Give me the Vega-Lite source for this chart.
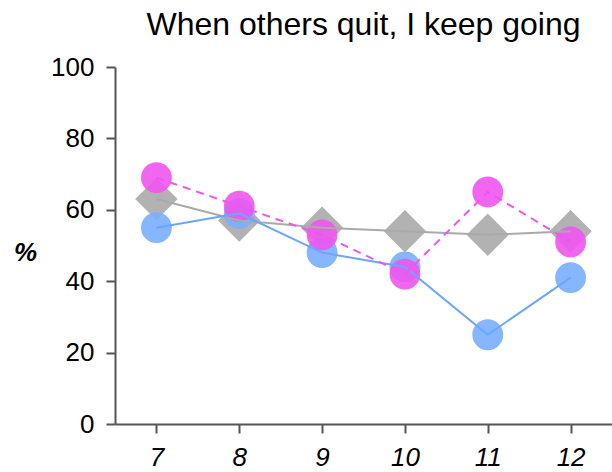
{
  "$schema": "https://vega.github.io/schema/vega-lite/v6.json",
  "width": 497,
  "height": 357,
  "autosize": "none",
  "padding": {"left": 115, "top": 67, "right": 0, "bottom": 48},
  "background": "white",
  "title": {
    "text": "When others quit, I keep going",
    "font": "Liberation Sans",
    "fontSize": 32,
    "fontWeight": "normal",
    "color": "#000000",
    "anchor": "middle",
    "offset": 12
  },
  "data": {
    "values": [
      {"grade": 7, "group": "Overall", "pct": 63},
      {"grade": 8, "group": "Overall", "pct": 57},
      {"grade": 9, "group": "Overall", "pct": 55},
      {"grade": 10, "group": "Overall", "pct": 54},
      {"grade": 11, "group": "Overall", "pct": 53},
      {"grade": 12, "group": "Overall", "pct": 54},
      {"grade": 7, "group": "Group A", "pct": 55},
      {"grade": 8, "group": "Group A", "pct": 59},
      {"grade": 9, "group": "Group A", "pct": 48},
      {"grade": 10, "group": "Group A", "pct": 44},
      {"grade": 11, "group": "Group A", "pct": 25},
      {"grade": 12, "group": "Group A", "pct": 41},
      {"grade": 7, "group": "Group B", "pct": 69},
      {"grade": 8, "group": "Group B", "pct": 61},
      {"grade": 9, "group": "Group B", "pct": 53},
      {"grade": 10, "group": "Group B", "pct": 42},
      {"grade": 11, "group": "Group B", "pct": 65},
      {"grade": 12, "group": "Group B", "pct": 51}
    ]
  },
  "encoding": {
    "x": {
      "field": "grade",
      "type": "quantitative",
      "scale": {"domain": [6.5, 12.5], "nice": false, "zero": false},
      "axis": {
        "title": null,
        "values": [7, 8, 9, 10, 11, 12],
        "format": "d",
        "grid": false,
        "domainColor": "#555555",
        "domainWidth": 2,
        "tickColor": "#555555",
        "tickWidth": 2,
        "tickSize": 9,
        "labelFont": "Liberation Sans",
        "labelFontSize": 26,
        "labelFontStyle": "italic",
        "labelColor": "#000000",
        "labelPadding": 11
      }
    },
    "y": {
      "field": "pct",
      "type": "quantitative",
      "scale": {"domain": [0, 100], "nice": false},
      "axis": {
        "title": "%",
        "values": [0, 20, 40, 60, 80, 100],
        "grid": false,
        "domainColor": "#555555",
        "domainWidth": 2,
        "tickColor": "#555555",
        "tickWidth": 2,
        "tickSize": 9,
        "labelFont": "Liberation Sans",
        "labelFontSize": 26,
        "labelColor": "#000000",
        "labelPadding": 12,
        "titleFont": "Liberation Sans",
        "titleFontSize": 26,
        "titleFontStyle": "italic",
        "titleFontWeight": "bold",
        "titleColor": "#000000",
        "titleAngle": 0,
        "titleAlign": "center",
        "titleBaseline": "middle",
        "titleX": -90,
        "titleY": 185
      }
    }
  },
  "layer": [
    {
      "transform": [{"filter": "datum.group === 'Overall'"}],
      "mark": {"type": "point", "shape": "diamond", "filled": true, "size": 1800, "color": "#aaaaaa", "opacity": 0.9, "strokeWidth": 0}
    },
    {
      "transform": [{"filter": "datum.group === 'Group A'"}],
      "mark": {"type": "point", "shape": "circle", "filled": true, "size": 950, "color": "#78aeff", "opacity": 0.9, "strokeWidth": 0}
    },
    {
      "transform": [{"filter": "datum.group === 'Group B'"}],
      "mark": {"type": "point", "shape": "circle", "filled": true, "size": 950, "color": "#ee55ee", "opacity": 0.9, "strokeWidth": 0}
    },
    {
      "transform": [{"filter": "datum.group === 'Overall'"}],
      "mark": {"type": "line", "color": "#aaaaaa", "strokeWidth": 2}
    },
    {
      "transform": [{"filter": "datum.group === 'Group A'"}],
      "mark": {"type": "line", "color": "#6aa6ff", "strokeWidth": 2}
    },
    {
      "transform": [{"filter": "datum.group === 'Group B'"}],
      "mark": {"type": "line", "color": "#ee55ee", "strokeWidth": 2, "strokeDash": [8, 6]}
    }
  ],
  "config": {
    "view": {"stroke": null}
  }
}
